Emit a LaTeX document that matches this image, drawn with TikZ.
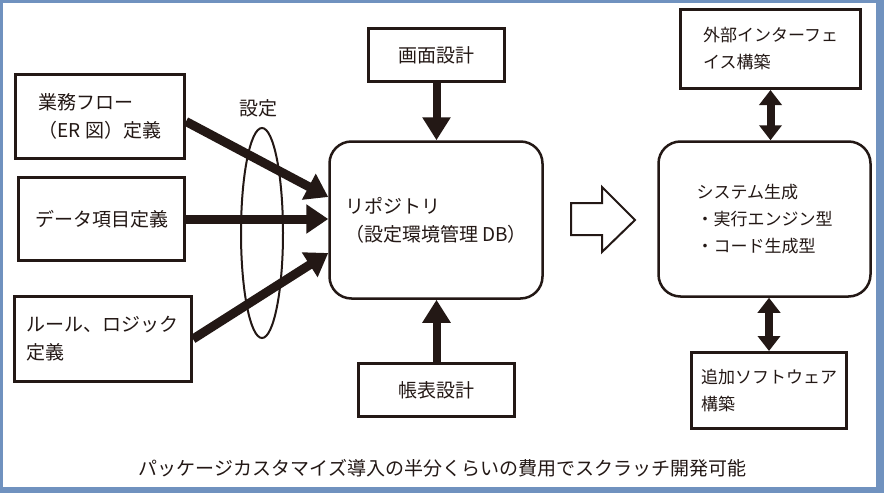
\documentclass[tikz,border=0pt]{standalone}
\usepackage{fontspec}
\setmainfont{Noto Sans CJK JP}
\usetikzlibrary{arrows.meta,shapes.geometric}
\definecolor{ink}{RGB}{35,24,21}
\definecolor{frameblue}{RGB}{112,146,191}

\begin{document}
\begin{tikzpicture}[x=1pt,y=-1pt,
        every node/.style = {text=ink},
        box/.style = {draw=ink, line width=3pt, align=left, inner sep=0pt,
            font=\fontsize{19}{28}\selectfont},
        rbox/.style = {box, line width=2.5pt, rounded corners=22pt},
        sbox/.style = {box, font=\fontsize{17}{27}\selectfont},
        fat/.style = {draw=ink, line width=9pt, -{Triangle[length=22pt,width=28pt]}},
        fatv/.style = {draw=ink, line width=8pt, -{Triangle[length=23pt,width=27pt]}},
        dbl/.style = {draw=ink, line width=8pt,
            {Triangle[length=15pt,width=22pt]}-{Triangle[length=15pt,width=22pt]}}]
        \useasboundingbox (0,0) rectangle (884,493);
        \fill[frameblue] (0,0) rectangle (884,493);
        \fill[white] (3,3) rectangle (876,487);

        % inputs
        \node[box, minimum width=169pt, minimum height=84pt] (gyomu) at (100,116.5) {業務フロー\\（ER 図）定義};
        \node[box, minimum width=166pt, minimum height=83pt] (data) at (101.5,219) {データ項目定義};
        \node[box, minimum width=177pt, minimum height=85pt] (rule) at (103,339) {ルール、ロジック\\定義};
        \node[box, minimum width=136pt, minimum height=53pt] (gamen) at (436.5,55) {画面設計};
        \node[box, minimum width=156pt, minimum height=53pt] (chohyo) at (436.5,390) {帳表設計};

        % repository and system
        \node[rbox, minimum width=213pt, minimum height=157pt] (repo) at (436,220) {リポジトリ\\（設定環境管理 DB）};
        \node[rbox, sbox, line width=2.5pt, minimum width=212pt, minimum height=155pt] (system) at (764.5,219) {システム生成\\・実行エンジン型\\・コード生成型};
        \node[sbox, minimum width=180pt, minimum height=79pt] (gaibu) at (770.5,49) {外部インターフェ\\イス構築};
        \node[sbox, minimum width=155pt, minimum height=76pt] (tsuika) at (769,390.5) {追加ソフトウェア\\構築};

        \draw[fat] ([yshift=-5pt]gyomu.east) -- ([yshift=23pt]repo.west);
        \draw[fat] (data.east) -- (data.east -| repo.west);
        \draw[fat] (rule.east) -- ([yshift=-33pt]repo.west);
        \draw[fatv] (gamen.south) -- (gamen.south |- repo.north);
        \draw[fatv] (chohyo.north) -- (chohyo.north |- repo.south);
        \draw[dbl] (gaibu.south) -- (gaibu.south |- system.north);
        \draw[dbl] (tsuika.north) -- (tsuika.north |- system.south);

        \node[draw=ink, line width=2pt, ellipse, inner sep=0pt,
            minimum width=42pt, minimum height=210pt] (grp) at (262,233) {};
        \node[font=\fontsize{19}{19}\selectfont] (settei) at (258,108) {設定};

        % hollow arrow
        \draw[ink, line width=2pt, fill=white, line join=miter]
            (571,203) -- (602,203) -- (602,187) -- (635,220)
            -- (602,252) -- (602,235) -- (571,235) -- cycle;

        \node[font=\fontsize{19}{19}\selectfont] (note) at (442.5,468) {パッケージカスタマイズ導入の半分くらいの費用でスクラッチ開発可能};
    \end{tikzpicture}
\end{document}
